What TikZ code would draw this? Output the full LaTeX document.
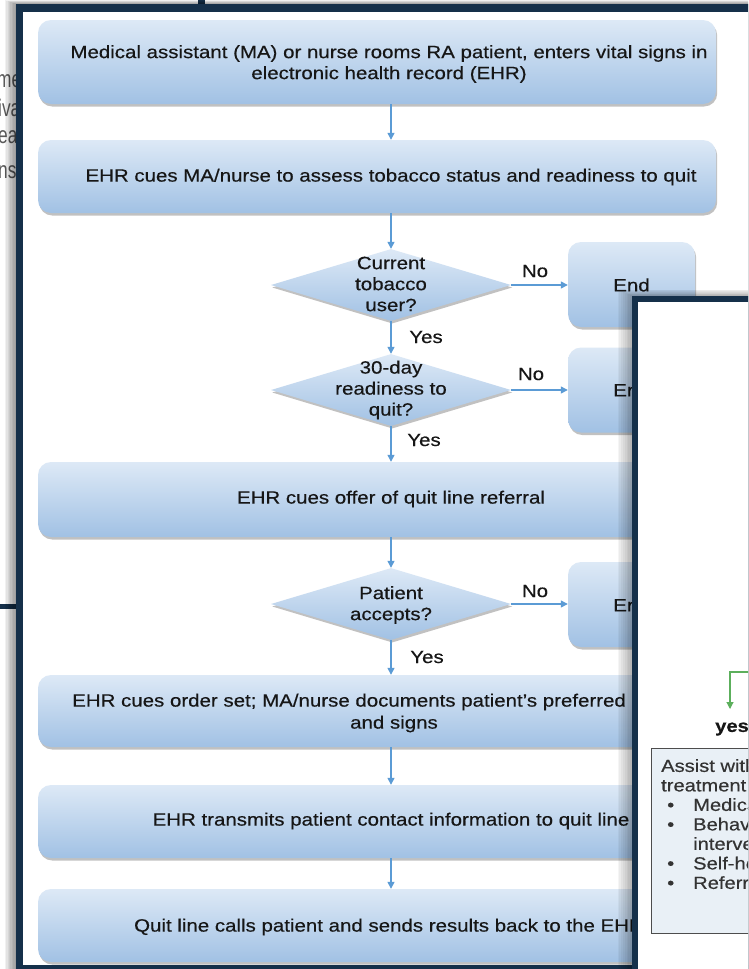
\documentclass[tikz,border=0pt]{standalone}
\usepackage{fontspec}
\setmainfont{Liberation Sans}[FakeStretch=1.15, FakeBold=0.4]
\newfontfamily\pagefont{Liberation Sans}[FakeStretch=0.72]
\usetikzlibrary{shapes.geometric,arrows.meta,shadows}

\definecolor{framenavy}{HTML}{15304A}
\definecolor{boxtop}{HTML}{DDE9F6}
\definecolor{boxbot}{HTML}{A1C1E4}
\definecolor{flowblue}{HTML}{5B9BD5}
\definecolor{inkblack}{HTML}{161616}
\definecolor{yesgreen}{HTML}{5CAF5C}
\definecolor{notefill}{HTML}{E9F0F6}
\definecolor{noteedge}{HTML}{4D4D4D}
\definecolor{notetext}{HTML}{333333}
\definecolor{pagegray}{HTML}{5A5A5A}

\tikzset{
  txt/.style={font=\fontsize{17.8}{21}\selectfont, text=inkblack, align=center, inner sep=0pt},
  tag/.style={font=\fontsize{17.8}{21}\selectfont, text=inkblack, inner sep=0pt},
  shade3d/.style={top color=boxtop, bottom color=boxbot, draw=none,
    drop shadow={shadow xshift=1.2pt, shadow yshift=-2.5pt, opacity=0.3, fill=black!80}},
  stepbox/.style={shade3d, rectangle, rounded corners=13pt, minimum width=678pt, inner sep=0pt},
  endbox/.style={shade3d, rectangle, rounded corners=13pt, minimum width=127pt, minimum height=85pt, inner sep=0pt},
  decision/.style={shade3d, diamond, minimum width=240pt, minimum height=72pt, inner sep=0pt},
  flow/.style={draw=flowblue, line width=1.3pt, -{Triangle[length=7pt,width=7pt]}},
  pageword/.style={font=\pagefont\fontsize{24}{28}\selectfont, text=pagegray, inner sep=0pt, anchor=base west},
  notetxt/.style={font=\fontsize{17.5}{19.5}\selectfont, text=notetext, align=left, inner sep=0pt},
}

\begin{document}
\begin{tikzpicture}[x=1pt, y=-1pt]
\useasboundingbox (0,0) rectangle (748,969);
\begin{scope}
\clip (0,0) rectangle (748,969);

% page lying underneath
\fill[white] (0,0) rectangle (748,969);
\node[pageword] (w1) at (-3,87) {me};
\node[pageword] (w2) at (-2,116) {iva};
\node[pageword] (w3) at (-2,143) {ea};
\node[pageword] (w4) at (-2,178) {ns};
\fill[framenavy] (0,604) rectangle (16,609);
\fill[framenavy] (198,0) rectangle (205,4);

% flowchart window
\foreach \k in {1,...,8}{\fill[black, opacity=0.055] (16-1.4*\k, 4-0.5*\k) rectangle (760,980);}
\fill[framenavy] (16,4) rectangle (760,980);
\fill[white] (23,12) rectangle (760,965);

\coordinate (spine) at (391,0);

% process steps
\node[stepbox, minimum height=84pt] (s1) at (377,62) {};
\node[stepbox, minimum height=73pt] (s2) at (377,176.5) {};
\node[stepbox, minimum height=75pt] (s3) at (377,499.5) {};
\node[stepbox, minimum height=72pt] (s4) at (377,711) {};
\node[stepbox, minimum height=73pt] (s5) at (377,821.5) {};
\node[stepbox, minimum height=73pt] (s6) at (377,925.5) {};

% decisions
\node[decision] (d1) at (391,285) {};
\node[decision] (d2) at (391,390) {};
\node[decision] (d3) at (391,604) {};

% terminators
\node[endbox] (e1) at (631.5,284.5) {};
\node[endbox] (e2) at (631.5,390) {};
\node[endbox] (e3) at (631.5,604.5) {};

% texts
\node[txt] (s1t) at (389,64) {Medical assistant (MA) or nurse rooms RA patient, enters vital signs in\\electronic health record (EHR)};
\node[txt] (s2t) at (391,177) {EHR cues MA/nurse to assess tobacco status and readiness to quit};
\node[txt] (s3t) at (391,499) {EHR cues offer of quit line referral};
\node[txt, anchor=west] (s4a) at (72,702) {EHR cues order set; MA/nurse documents patient's preferred};
\node[txt] (s4b) at (394,724) {and signs};
\node[txt] (s5t) at (391,821) {EHR transmits patient contact information to quit line};
\node[txt] (s6t) at (389,927) {Quit line calls patient and sends results back to the EHR};
\node[txt] (d1t) at (391,284) {Current\\tobacco\\user?};
\node[txt] (d2t) at (391,390) {30-day\\readiness to\\quit?};
\node[txt] (d3t) at (391,605) {Patient\\accepts?};
\node[txt] (e1t) at (631.5,285) {End};
\node[txt] (e2t) at (631.5,390) {End};
\node[txt] (e3t) at (631.5,605) {End};

% connectors
\draw[flow] (s1.south -| spine) -- (s2.north -| spine);
\draw[flow] (s2.south -| spine) -- (d1.north);
\draw[flow] (d1.south) -- (d2.north);
\draw[flow] (d2.south) -- (s3.north -| spine);
\draw[flow] (s3.south -| spine) -- (d3.north);
\draw[flow] (d3.south) -- (s4.north -| spine);
\draw[flow] (s4.south -| spine) -- (s5.north -| spine);
\draw[flow] (s5.south -| spine) -- (s6.north -| spine);
\draw[flow] (d1.east) -- (d1.east -| e1.west);
\draw[flow] (d2.east) -- (d2.east -| e2.west);
\draw[flow] (d3.east) -- (d3.east -| e3.west);

% branch labels
\node[tag] (n1) at (535,271) {No};
\node[tag] (y1) at (426,337) {Yes};
\node[tag] (n2) at (531,374) {No};
\node[tag] (y2) at (424,440) {Yes};
\node[tag] (n3) at (535,591) {No};
\node[tag] (y3) at (427,657) {Yes};

% second window on top
\foreach \k in {1,...,8}{\fill[black, opacity=0.04] (632-1.8*\k, 296-0.8*\k) rectangle (760,980);}
\fill[framenavy] (632,296) rectangle (760,980);
\fill[white] (638,302) rectangle (760,980);

\coordinate (gin) at (760,672);
\coordinate (gtip) at (730,709);
\draw[yesgreen, line width=1.1pt, -{Triangle[length=7pt,width=7pt]}] (gin) -| (gtip);
\node[font=\bfseries\fontsize{17.5}{21}\selectfont, text=inkblack, inner sep=0pt] (yes) at (732,729) {yes};

\node[draw=noteedge, fill=notefill, line width=1.1pt, anchor=north west,
      minimum width=200pt, minimum height=185pt, inner sep=0pt] (note) at (651,748) {};
\node[notetxt, anchor=north west] (notet) at (661,759) {%
Assist with\\
treatment\\
\makebox[32pt][l]{\hspace*{6pt}\textbullet}Medica\\
\makebox[32pt][l]{\hspace*{6pt}\textbullet}Behav\\
\hspace*{32pt}interve\\
\makebox[32pt][l]{\hspace*{6pt}\textbullet}Self-he\\
\makebox[32pt][l]{\hspace*{6pt}\textbullet}Referr};
\end{scope}
\end{tikzpicture}
\end{document}
